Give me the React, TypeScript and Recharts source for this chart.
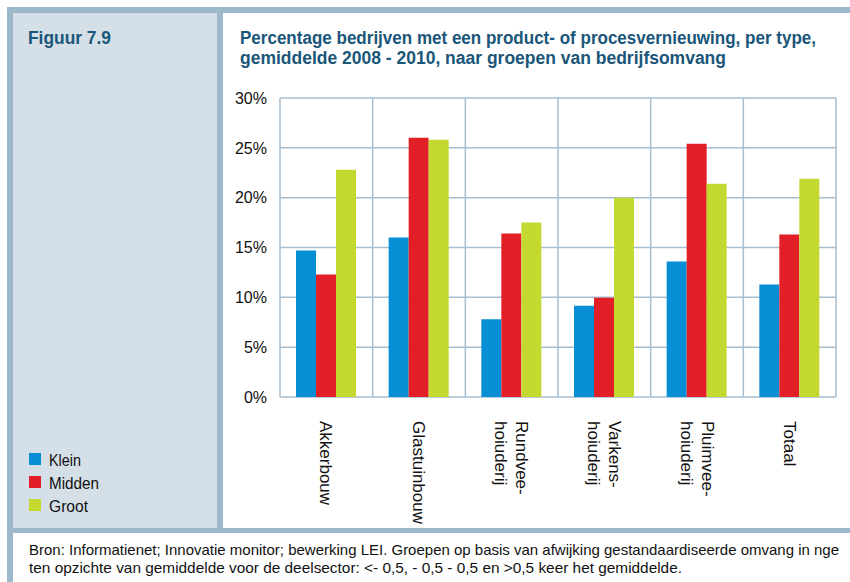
import React from 'react'
import { BarChart, Bar, XAxis, YAxis, CartesianGrid } from 'recharts'

const categories = ['Akkerbouw', 'Glastuinbouw', 'Rundvee-\nhoiuderij', 'Varkens-\nhoiuderij', 'Pluimvee-\nhoiuderij', 'Totaal']
const klein = [14.7, 16.0, 7.8, 9.15, 13.6, 11.3]
const midden = [12.3, 26.0, 16.4, 9.95, 25.4, 16.3]
const groot = [22.8, 25.8, 17.5, 20.0, 21.4, 21.9]
const yTicks = [0, 5, 10, 15, 20, 25, 30]

const seriesNames = ['Klein', 'Midden', 'Groot']
const colors = ['#068fd4', '#e21f26', '#c4d92f']

const figureLabel = 'Figuur 7.9'
const titleLines = [
  'Percentage bedrijven met een product- of procesvernieuwing, per type,',
  'gemiddelde 2008 - 2010, naar groepen van bedrijfsomvang',
]
const noteLines = [
  'Bron: Informatienet; Innovatie monitor; bewerking LEI. Groepen op basis van afwijking gestandaardiseerde omvang in nge',
  'ten opzichte van gemiddelde voor de deelsector: <- 0,5, - 0,5 - 0,5 en >0,5 keer het gemiddelde.',
]

const data = categories.map((c, i) => ({ name: c, klein: klein[i], midden: midden[i], groot: groot[i] }))

const font = "'Liberation Sans', Arial, sans-serif"
const border = '#9db8cb'
const titleColor = '#1a5679'

// condensed look: squeeze Liberation Sans to the measured widths
const titleWidths = [576, 486]
const noteWidths = [810, 653]
const legendWidths = [32, 50, 39]

function CategoryTick(props: any) {
  const { x, y, payload } = props
  const lines = String(payload.value).split('\n')
  const step = 21
  return (
    <g transform={`translate(${x},${y})`}>
      <text transform="rotate(90)" fontFamily={font} fontSize={17} fill="#111" textAnchor="start">
        {lines.map((l, i) => (
          <tspan key={i} x={16} y={(i - (lines.length - 1) / 2) * step} dy="0.35em">{l}</tspan>
        ))}
      </text>
    </g>
  )
}

export default function App() {
  return (
    <div style={{ position: 'absolute', left: 0, top: 0, width: 850, height: 582, overflow: 'hidden', background: '#fff' }}>
      {/* frame */}
      <div style={{ position: 'absolute', left: 7, top: 7, width: 860, height: 600, border: `6px solid ${border}`, boxSizing: 'border-box' }} />
      <div style={{ position: 'absolute', left: 13, top: 13, width: 204, height: 515, background: '#d5dfe7' }} />
      <div style={{ position: 'absolute', left: 217, top: 13, width: 6, height: 515, background: border }} />
      <div style={{ position: 'absolute', left: 13, top: 528, width: 840, height: 5, background: border }} />

      <div style={{ position: 'absolute', left: 0, top: 0 }}>
        <BarChart width={850} height={582} data={data} margin={{ top: 98, right: 14, bottom: 65, left: 200 }}
          barCategoryGap={16} barGap={0}>
          <CartesianGrid stroke="#a6bed0" strokeWidth={1.5}
            verticalCoordinatesGenerator={({ offset }: any) =>
              categories.map((_, i) => offset.left + (i * offset.width) / categories.length).concat([offset.left + offset.width])} />
          <XAxis dataKey="name" interval={0} height={120} axisLine={false} tickLine={false} tick={<CategoryTick />} />
          <YAxis domain={[0, 30]} ticks={yTicks} width={80} axisLine={false} tickLine={false} tickSize={0} tickMargin={13}
            tickFormatter={(v: number) => `${v}%`} tick={{ fontFamily: font, fontSize: 16, fill: '#111' }} />
          <Bar dataKey="klein" fill={colors[0]} isAnimationActive={false} />
          <Bar dataKey="midden" fill={colors[1]} isAnimationActive={false} />
          <Bar dataKey="groot" fill={colors[2]} isAnimationActive={false} />
        </BarChart>
      </div>

      <svg width={850} height={582} style={{ position: 'absolute', left: 0, top: 0, pointerEvents: 'none' }}>
        <text x={28} y={44} fontFamily={font} fontWeight="bold" fontSize={19} fill={titleColor}
          textLength={83} lengthAdjust="spacingAndGlyphs">{figureLabel}</text>
        {titleLines.map((t, i) => (
          <text key={i} x={240} y={44 + i * 20} fontFamily={font} fontWeight="bold" fontSize={18} fill={titleColor}
            textLength={titleWidths[i]} lengthAdjust="spacingAndGlyphs">{t}</text>
        ))}
        {seriesNames.map((s, i) => (
          <g key={s}>
            <rect x={29} y={453 + i * 23} width={12} height={12} fill={colors[i]} />
            <text x={49} y={466 + i * 23} fontFamily={font} fontSize={17} fill="#111"
              textLength={legendWidths[i]} lengthAdjust="spacingAndGlyphs">{s}</text>
          </g>
        ))}
        {noteLines.map((t, i) => (
          <text key={i} x={29} y={555 + i * 18} fontFamily={font} fontSize={15} fill="#111"
            textLength={noteWidths[i]} lengthAdjust="spacingAndGlyphs">{t}</text>
        ))}
      </svg>
    </div>
  )
}
